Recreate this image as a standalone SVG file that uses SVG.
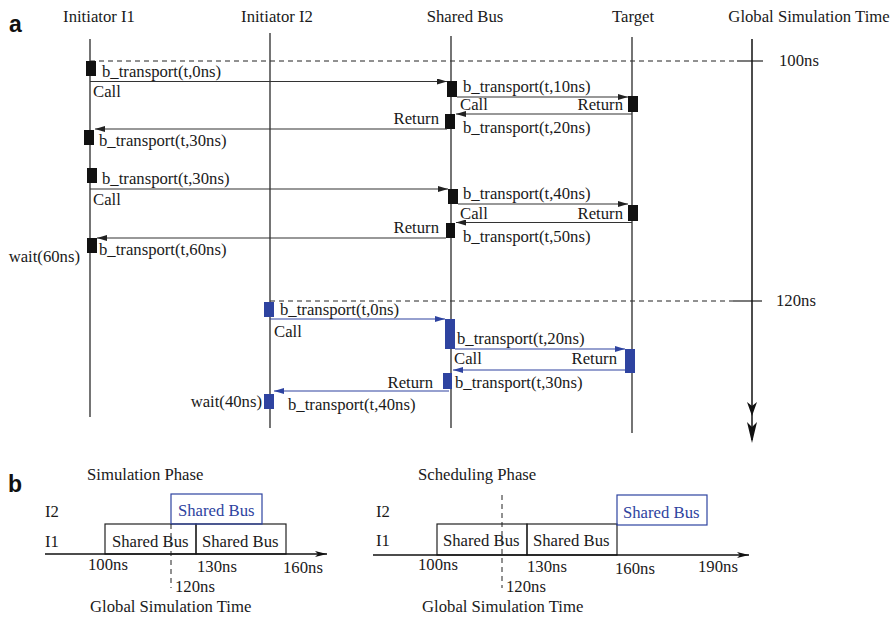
<svg xmlns="http://www.w3.org/2000/svg" width="895" height="617" viewBox="0 0 895 617">
  <style>
    text { font-family: "Liberation Serif", "Times New Roman", serif; font-size: 16.7px; fill: #1a1a1a; }
    .tag { font-family: "Liberation Sans", Arial, sans-serif; font-weight: bold; font-size: 23px; fill: #111; }
    .life { stroke: #3a3a3a; stroke-width: 1.4; fill: none; }
    .dash { stroke: #222; stroke-width: 1; stroke-dasharray: 5 4; fill: none; }
    .act { fill: #111; }
    .actb { fill: #2e43a0; }
    .msg { stroke: #333; stroke-width: 1.2; fill: none; marker-end: url(#ah); }
    .msgb { stroke: #2e43a0; stroke-width: 1.2; fill: none; marker-end: url(#ahb); }
    .box { stroke: #222; stroke-width: 1.2; fill: none; }
    .boxb { stroke: #2e43a0; stroke-width: 1.2; fill: none; }
    .blue { fill: #2e43a0; }
    .axis { stroke: #111; stroke-width: 1.3; fill: none; marker-end: url(#ax); }
  </style>
  <defs>
    <marker id="ah" viewBox="0 0 10 6" refX="10" refY="3" markerWidth="10" markerHeight="6" markerUnits="userSpaceOnUse" orient="auto">
      <path d="M0,0 L10,3 L0,6 Z" fill="#222"/>
    </marker>
    <marker id="ahb" viewBox="0 0 10 6" refX="10" refY="3" markerWidth="10" markerHeight="6" markerUnits="userSpaceOnUse" orient="auto">
      <path d="M0,0 L10,3 L0,6 Z" fill="#2e43a0"/>
    </marker>
    <marker id="ax" viewBox="0 0 12 8" refX="12" refY="4" markerWidth="12" markerHeight="8" markerUnits="userSpaceOnUse" orient="auto">
      <path d="M0,1 L12,4 L0,7 L3,4 Z" fill="#111"/>
    </marker>
  </defs>

  <!-- panel a -->
  <text class="tag" x="9" y="32">a</text>

  <!-- time markers -->
  <g id="time-marks">
    <line class="dash" x1="90" y1="61" x2="737" y2="61"/>
    <line stroke="#222" stroke-width="1.2" x1="737" y1="61" x2="763" y2="61"/>
    <text x="779" y="66">100ns</text>
    <line class="dash" x1="270" y1="301" x2="733" y2="301"/>
    <line stroke="#222" stroke-width="1.2" x1="733" y1="301" x2="762" y2="301"/>
    <text x="776" y="306">120ns</text>
  </g>

  <g id="initiator-i1">
    <text x="99" y="22" text-anchor="middle">Initiator I1</text>
    <line class="life" x1="90" y1="39" x2="90" y2="417"/>
    <rect class="act" x="86" y="61" width="10" height="15"/>
    <rect class="act" x="84" y="130" width="10" height="15"/>
    <rect class="act" x="87" y="168" width="10" height="15"/>
    <rect class="act" x="87" y="238" width="10" height="15"/>
  </g>

  <g id="initiator-i2">
    <text x="277" y="22" text-anchor="middle">Initiator I2</text>
    <line class="life" x1="270" y1="33" x2="270" y2="428"/>
    <rect class="actb" x="264" y="302" width="10" height="15"/>
    <rect class="actb" x="264" y="394" width="10" height="15"/>
  </g>

  <g id="shared-bus">
    <text x="465" y="22" text-anchor="middle">Shared Bus</text>
    <line class="life" x1="451" y1="36" x2="451" y2="428"/>
    <rect class="act" x="447" y="81" width="10" height="16"/>
    <rect class="act" x="445" y="114" width="10" height="15"/>
    <rect class="act" x="448" y="189" width="10" height="15"/>
    <rect class="act" x="446" y="223" width="9" height="15"/>
    <rect class="actb" x="445" y="319" width="10" height="30"/>
    <rect class="actb" x="443" y="373" width="9" height="16"/>
  </g>

  <g id="target">
    <text x="633" y="22" text-anchor="middle">Target</text>
    <line class="life" x1="632" y1="37" x2="632" y2="433"/>
    <rect class="act" x="628" y="96" width="10" height="16"/>
    <rect class="act" x="628" y="205" width="10" height="16"/>
    <rect class="actb" x="625" y="349" width="10" height="24"/>
  </g>

  <g id="global-time">
    <text x="809" y="22" text-anchor="middle">Global Simulation Time</text>
    <line stroke="#111" stroke-width="1.5" x1="752" y1="39" x2="752" y2="440"/>
    <path d="M752,416 L747,402 L752,406 L757,402 Z" fill="#111"/>
    <path d="M752,443 L747,422 L752,427 L757,422 Z" fill="#111"/>
  </g>

  <!-- messages -->
  <g id="connectors">
    <line class="msg" x1="90" y1="81.5" x2="447" y2="81.5"/>
    <line class="msg" x1="457" y1="97" x2="628" y2="97"/>
    <line class="msg" x1="632" y1="114" x2="456" y2="114"/>
    <line class="msg" x1="447" y1="129" x2="95" y2="129"/>

    <line class="msg" x1="90" y1="189" x2="448" y2="189"/>
    <line class="msg" x1="458" y1="204" x2="628" y2="204"/>
    <line class="msg" x1="632" y1="222.5" x2="456" y2="222.5"/>
    <line class="msg" x1="446" y1="238" x2="97" y2="238"/>

    <line class="msgb" x1="270" y1="319" x2="445" y2="319"/>
    <line class="msgb" x1="455" y1="349" x2="625" y2="349"/>
    <line class="msgb" x1="625" y1="370" x2="453" y2="370"/>
    <line class="msgb" x1="449" y1="391" x2="274" y2="391"/>
  </g>

  <g id="message-labels">
    <text x="102" y="77">b_transport(t,0ns)</text>
    <text x="93" y="97">Call</text>
    <text x="463" y="92">b_transport(t,10ns)</text>
    <text x="460" y="110">Call</text>
    <text x="623" y="110" text-anchor="end">Return</text>
    <text x="439" y="124" text-anchor="end">Return</text>
    <text x="463" y="133">b_transport(t,20ns)</text>
    <text x="99" y="146">b_transport(t,30ns)</text>

    <text x="102" y="184">b_transport(t,30ns)</text>
    <text x="93" y="205">Call</text>
    <text x="463" y="199">b_transport(t,40ns)</text>
    <text x="460" y="219">Call</text>
    <text x="623" y="219" text-anchor="end">Return</text>
    <text x="439" y="233" text-anchor="end">Return</text>
    <text x="463" y="242">b_transport(t,50ns)</text>
    <text x="99" y="255">b_transport(t,60ns)</text>
    <text x="80" y="262" text-anchor="end">wait(60ns)</text>

    <text x="280" y="315">b_transport(t,0ns)</text>
    <text x="274" y="337">Call</text>
    <text x="457" y="344">b_transport(t,20ns)</text>
    <text x="454" y="364">Call</text>
    <text x="617" y="364" text-anchor="end">Return</text>
    <text x="433" y="388" text-anchor="end">Return</text>
    <text x="455" y="388">b_transport(t,30ns)</text>
    <text x="262" y="407" text-anchor="end">wait(40ns)</text>
    <text x="288" y="410">b_transport(t,40ns)</text>
  </g>

  <!-- panel b -->
  <text class="tag" x="8" y="492">b</text>

  <g id="simulation-phase">
    <text x="87" y="480">Simulation Phase</text>
    <text x="45" y="517">I2</text>
    <text x="45" y="547">I1</text>
    <rect class="box" x="105" y="524" width="91" height="30"/>
    <rect class="box" x="196" y="524" width="90" height="30"/>
    <rect class="boxb" x="171" y="494" width="91" height="30"/>
    <text x="112" y="547">Shared Bus</text>
    <text x="202" y="547">Shared Bus</text>
    <text class="blue" x="178" y="516">Shared Bus</text>
    <line class="axis" x1="45" y1="554" x2="327" y2="554"/>
    <line class="dash" x1="171" y1="524" x2="171" y2="588"/>
    <text x="88" y="570">100ns</text>
    <text x="197" y="572">130ns</text>
    <text x="283" y="573">160ns</text>
    <text x="175" y="592">120ns</text>
    <text x="90" y="612">Global Simulation Time</text>
  </g>

  <g id="scheduling-phase">
    <text x="418" y="480">Scheduling Phase</text>
    <text x="376" y="517">I2</text>
    <text x="376" y="546">I1</text>
    <rect class="box" x="437" y="524" width="90" height="31"/>
    <rect class="box" x="527" y="524" width="90" height="31"/>
    <rect class="boxb" x="617" y="495" width="90" height="30"/>
    <text x="443" y="546">Shared Bus</text>
    <text x="533" y="546">Shared Bus</text>
    <text class="blue" x="623" y="518">Shared Bus</text>
    <line class="axis" x1="373" y1="555" x2="749" y2="555"/>
    <line class="dash" x1="502" y1="495" x2="502" y2="588"/>
    <text x="418" y="570">100ns</text>
    <text x="527" y="572">130ns</text>
    <text x="615" y="574">160ns</text>
    <text x="698" y="572">190ns</text>
    <text x="506" y="592">120ns</text>
    <text x="422" y="612">Global Simulation Time</text>
  </g>
</svg>
